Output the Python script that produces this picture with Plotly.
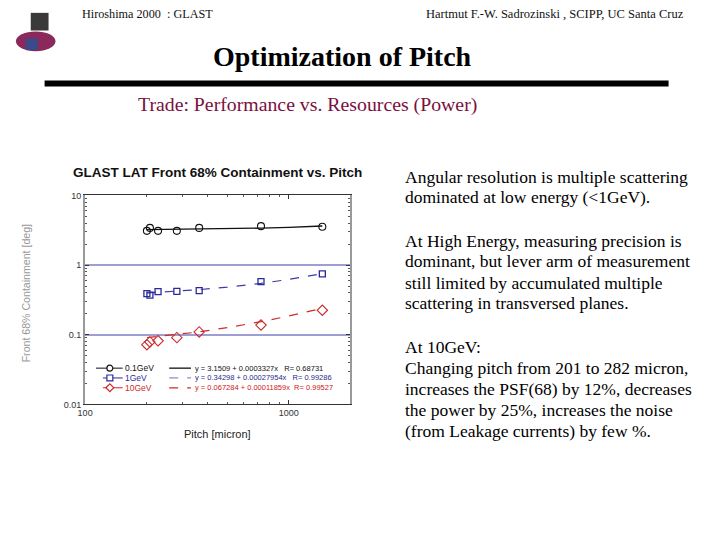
import plotly.graph_objects as go

# ---- data ----
pitch = [201, 208, 228, 282, 363, 730, 1460]
psf_01gev = [3.10, 3.42, 3.10, 3.10, 3.42, 3.62, 3.55]
psf_1gev = [0.39, 0.37, 0.415, 0.42, 0.43, 0.58, 0.75]
psf_10gev = [0.072, 0.079, 0.082, 0.091, 0.110, 0.138, 0.225]

fit_pitch = [201, 282, 363, 500, 730, 1000, 1460]
fit_01gev = [3.22, 3.25, 3.27, 3.32, 3.39, 3.48, 3.64]
fit_1gev = [0.399, 0.422, 0.444, 0.483, 0.547, 0.623, 0.751]
fit_10gev = [0.091, 0.101, 0.110, 0.127, 0.154, 0.186, 0.240]

series_names = ["0.1GeV", "1GeV", "10GeV"]
fit_labels = ["y = 3.1509 + 0.0003327x   R= 0.68731",
              "y = 0.34298 + 0.00027954x   R= 0.99286",
              "y = 0.067284 + 0.00011859x  R= 0.99527"]
y_ticks = [0.01, 0.1, 1, 10]
y_ticktext = ["0.01", "0.1", "1", "10"]
x_ticks = [100, 1000]
x_ticktext = ["100", "1000"]

right_text = [
    ("Angular resolution is multiple scattering", 175),
    ("dominated at low energy (<1GeV).", 196),
    ("At High Energy, measuring precision is", 240),
    ("dominant, but lever arm of measurement", 261),
    ("still limited by accumulated multiple", 283),
    ("scattering in transversed planes.", 304),
    ("At 10GeV:", 348),
    ("Changing pitch from 201 to 282 micron,", 370),
    ("increases the PSF(68) by 12%, decreases", 391),
    ("the power by 25%, increases the noise", 413),
    ("(from Leakage currents) by few %.", 434),
]

W, H = 720, 540
BLACK = "#111111"
BLUE = "#2a2a9c"
RED = "#cc2b2b"
BLUE_FIT = "#3a3aa8"
DX = -4

def px(x):
    return (x + DX) / W

def py(y):
    return 1 - y / H

fig = go.Figure()

# fit lines
fig.add_trace(go.Scatter(x=fit_pitch, y=fit_01gev, mode="lines",
                         line=dict(color=BLACK, width=1.3), showlegend=False))
fig.add_trace(go.Scatter(x=fit_pitch, y=fit_1gev, mode="lines",
                         line=dict(color=BLUE_FIT, width=1.2, dash="dash"), showlegend=False))
fig.add_trace(go.Scatter(x=fit_pitch, y=fit_10gev, mode="lines",
                         line=dict(color=RED, width=1.2, dash="dash"), showlegend=False))

# data markers
fig.add_trace(go.Scatter(x=pitch, y=psf_01gev, mode="markers", name=series_names[0],
                         marker=dict(symbol="circle-open", size=7, color=BLACK, line=dict(width=1.1)),
                         showlegend=False))
fig.add_trace(go.Scatter(x=pitch, y=psf_1gev, mode="markers", name=series_names[1],
                         marker=dict(symbol="square-open", size=6, color=BLUE, line=dict(width=1.3)),
                         showlegend=False))
fig.add_trace(go.Scatter(x=pitch, y=psf_10gev, mode="markers", name=series_names[2],
                         marker=dict(symbol="diamond-open", size=8, color=RED, line=dict(width=1.1)),
                         showlegend=False))

x0, x1 = 82, 350
y0, y1 = 194, 407

axis_common = dict(
    type="log", showline=True, linewidth=1, mirror="ticks",
    ticks="inside", ticklen=4, tickcolor="#333",
    tickfont=dict(family="Liberation Sans", size=9, color="#333"),
    zeroline=False,
)

fig.update_layout(
    width=W, height=H,
    margin=dict(l=0, r=0, t=0, b=0),
    paper_bgcolor="white", plot_bgcolor="white",
    showlegend=False,
    xaxis=dict(axis_common, domain=[px(x0), px(x1)], range=[2, 3.301],
               tickvals=x_ticks, ticktext=x_ticktext, linecolor="#333", showgrid=False,
               minor=dict(ticks="inside", ticklen=2, tickcolor="#555", dtick="D1", showgrid=False)),
    yaxis=dict(axis_common, domain=[py(y1), py(y0)], range=[-2, 1],
               tickvals=y_ticks, ticktext=y_ticktext, linecolor="#999", linewidth=2,
               showgrid=True, gridcolor="#9d9ed2", gridwidth=2,
               minor=dict(ticks="inside", ticklen=2, tickcolor="#555", dtick="D1", showgrid=False)),
)

ann = []
shapes = []
serif = "Liberation Serif"
sans = "Liberation Sans"

# header
ann.append(dict(text="Hiroshima 2000  : GLAST", x=px(77), y=py(9), xanchor="left", yanchor="middle",
                font=dict(family=serif, size=12.2, color="#111")))
ann.append(dict(text="Hartmut F.-W. Sadrozinski , SCIPP, UC Santa Cruz", x=px(690), y=py(9),
                xanchor="right", yanchor="middle", font=dict(family=serif, size=12.5, color="#111")))
ann.append(dict(text="<b>Optimization of Pitch</b>", x=px(342), y=py(52), xanchor="center", yanchor="middle",
                font=dict(family=serif, size=28, color="#000")))
shapes.append(dict(type="rect", xref="paper", yref="paper", x0=px(41), x1=px(672), y0=py(83), y1=py(77),
                   fillcolor="black", line=dict(width=0)))
ann.append(dict(text="Trade: Performance vs. Resources (Power)", x=px(133), y=py(101), xanchor="left",
                yanchor="middle", font=dict(family=serif, size=19.8, color="#7a1040")))

# logo (approximate)
shapes.append(dict(type="rect", xref="paper", yref="paper", x0=px(27), x1=px(45), y0=py(26), y1=py(8),
                   fillcolor="#3a3a3a", line=dict(width=0)))
shapes.append(dict(type="circle", xref="paper", yref="paper", x0=px(12), x1=px(52), y0=py(47), y1=py(27),
                   fillcolor="#8a2a5a", line=dict(width=0)))
shapes.append(dict(type="rect", xref="paper", yref="paper", x0=px(22), x1=px(34), y0=py(46), y1=py(34),
                   fillcolor="#3a4a8a", line=dict(width=0)))

# chart title and axis titles
ann.append(dict(text="<b>GLAST LAT Front 68% Containment vs. Pitch</b>", x=px(216), y=py(171),
                xanchor="center", yanchor="middle", font=dict(family=sans, size=13.5, color="#111")))
ann.append(dict(text="Pitch [micron]", x=px(216), y=py(437), xanchor="center", yanchor="middle",
                font=dict(family=sans, size=11, color="#222")))
ann.append(dict(text="Front 68% Containment [deg]", x=px(22), y=py(294), xanchor="center", yanchor="middle",
                textangle=-90, font=dict(family=sans, size=10.6, color="#999")))

# manual legend (two columns)
leg_rows = [370, 380, 390]
colors = [BLACK, BLUE, RED]
fit_colors = [BLACK, "#8a8fc0", RED]
fit_dash = ["solid", "dash", "dash"]
for i, (yy, c) in enumerate(zip(leg_rows, colors)):
    shapes.append(dict(type="line", xref="paper", yref="paper", x0=px(93 if i == 0 else 100), x1=px(120),
                       y0=py(yy), y1=py(yy), line=dict(color=c, width=1)))
    cx = 107
    if i == 0:
        shapes.append(dict(type="circle", xref="paper", yref="paper", x0=px(cx - 3), x1=px(cx + 3),
                           y0=py(yy + 3), y1=py(yy - 3), fillcolor="white", line=dict(color=c, width=1.2)))
    elif i == 1:
        shapes.append(dict(type="rect", xref="paper", yref="paper", x0=px(cx - 3), x1=px(cx + 3),
                           y0=py(yy + 3), y1=py(yy - 3), fillcolor="white", line=dict(color=c, width=1.2)))
    else:
        path = "M {} {} L {} {} L {} {} L {} {} Z".format(
            px(cx - 4), py(yy), px(cx), py(yy - 4), px(cx + 4), py(yy), px(cx), py(yy + 4))
        shapes.append(dict(type="path", xref="paper", yref="paper", path=path, fillcolor="white",
                           line=dict(color=c, width=1.2)))
    ann.append(dict(text=series_names[i], x=px(120), y=py(yy), xanchor="left", yanchor="middle",
                    font=dict(family=sans, size=8.5, color=c)))
    shapes.append(dict(type="line", xref="paper", yref="paper", x0=px(167), x1=px(189),
                       y0=py(yy), y1=py(yy), line=dict(color=fit_colors[i], width=1.3, dash=fit_dash[i])))
    ann.append(dict(text=fit_labels[i], x=px(191), y=py(yy), xanchor="left", yanchor="middle",
                    font=dict(family=sans, size=7.5, color=["#111", "#2a2a8a", "#cc2020"][i])))

# right-hand text
for t, yy in right_text:
    ann.append(dict(text=t, x=px(403), y=py(yy), xanchor="left", yanchor="middle",
                    font=dict(family=serif, size=17.5, color="#000")))

for a in ann:
    a.update(xref="paper", yref="paper", showarrow=False)

fig.update_layout(annotations=ann, shapes=shapes)
fig.write_html("out.html", config={"displayModeBar": False},
               post_script="document.body.style.margin='0';document.body.style.overflow='hidden';")
